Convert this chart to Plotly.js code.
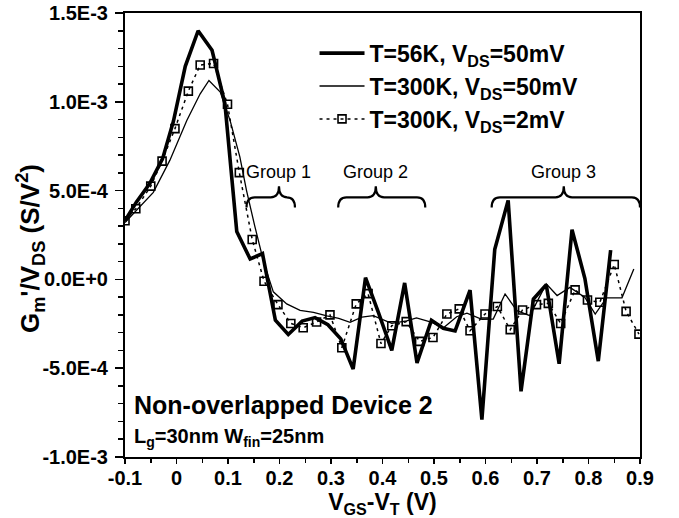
<!DOCTYPE html>
<html>
<head>
<meta charset="utf-8">
<script src="https://cdn.plot.ly/plotly-3.0.1.min.js"></script>
<style>html,body{margin:0;padding:0;background:#fff;}#chart{width:679px;height:518px;}</style>
</head>
<body>
<div id="chart"></div>
<script>
// Values of Gm'/VDS in units of 1E-4 S/V^2
var x56K = [-0.1, -0.078, -0.052, -0.027, -0.006, 0.017, 0.042, 0.069, 0.094, 0.117, 0.143, 0.167, 0.192, 0.217, 0.244, 0.269, 0.294, 0.319, 0.343, 0.367, 0.392, 0.418, 0.443, 0.467, 0.495, 0.518, 0.541, 0.570, 0.593, 0.618, 0.644, 0.669, 0.693, 0.718, 0.743, 0.768, 0.793, 0.819, 0.843];
var gm56K = [3.3, 4.35, 5.4, 6.8, 8.9, 12.0, 14.0, 12.9, 9.9, 2.7, 1.15, 1.45, -2.3, -3.1, -2.35, -2.15, -2.55, -3.35, -5.05, 0.1, -1.85, -4.0, -0.2, -4.7, -2.3, -2.75, -2.9, -0.6, -7.9, 1.7, 4.45, -6.3, -1.1, -0.3, -4.75, 2.8, 0.05, -4.6, 1.65];

var x300K = [-0.1, -0.077, -0.045, -0.013, 0.02, 0.046, 0.063, 0.085, 0.104, 0.123, 0.136, 0.152, 0.17, 0.188, 0.214, 0.24, 0.266, 0.292, 0.315, 0.337, 0.36, 0.382, 0.418, 0.447, 0.466, 0.496, 0.518, 0.544, 0.564, 0.593, 0.615, 0.638, 0.661, 0.686, 0.718, 0.739, 0.764, 0.793, 0.813, 0.835, 0.865, 0.888];
var gm300K = [3.2, 3.9, 4.9, 6.7, 8.95, 10.45, 11.2, 10.55, 8.95, 6.9, 5.0, 3.0, 0.9, -0.7, -1.38, -1.74, -1.86, -2.05, -2.2, -2.42, -2.12, -2.04, -2.48, -2.33, -2.17, -2.42, -2.74, -2.1, -1.9, -2.25, -2.23, -0.82, -1.76, -2.04, -0.25, -0.91, -0.45, -1.01, -1.95, -1.04, -1.04, 0.59];

var x2mV = [-0.1, -0.079, -0.050, -0.028, -0.003, 0.023, 0.046, 0.072, 0.099, 0.122, 0.147, 0.170, 0.197, 0.222, 0.246, 0.272, 0.298, 0.321, 0.349, 0.372, 0.397, 0.418, 0.446, 0.472, 0.498, 0.525, 0.549, 0.570, 0.599, 0.623, 0.648, 0.672, 0.699, 0.722, 0.746, 0.774, 0.798, 0.822, 0.850, 0.873, 0.898];
var gm2mV = [3.3, 3.98, 5.25, 6.66, 8.49, 10.6, 12.07, 12.16, 9.86, 6.01, 2.25, -0.1, -1.42, -2.48, -2.72, -2.4, -2.0, -3.85, -1.38, -0.8, -3.61, -2.61, -2.38, -3.49, -3.27, -1.95, -1.66, -2.89, -1.95, -1.53, -2.83, -1.72, -1.42, -1.35, -2.48, -0.59, -1.16, -1.29, 0.84, -1.80, -3.08];

var seriesNames = ["T=56K, V<sub>DS</sub>=50mV", "T=300K, V<sub>DS</sub>=50mV", "T=300K, V<sub>DS</sub>=2mV"];

var xTickVals = [-0.1, 0, 0.1, 0.2, 0.3, 0.4, 0.5, 0.6, 0.7, 0.8, 0.9];
var xTickText = ["-0.1", "0", "0.1", "0.2", "0.3", "0.4", "0.5", "0.6", "0.7", "0.8", "0.9"];
var yTickVals = [-10, -5, 0, 5, 10, 15];
var yTickText = ["-1.0E-3", "-5.0E-4", "0.0E+0", "5.0E-4", "1.0E-3", "1.5E-3"];

var groupLabels = ["Group 1", "Group 2", "Group 3"];
var groupCenters = [0.199, 0.387, 0.752];
var groupSpans = [[0.136, 0.230], [0.314, 0.483], [0.612, 0.900]];

var FONT = "Liberation Sans, Arial, sans-serif";

var traces = [
  {x: x56K, y: gm56K, name: seriesNames[0], mode: "lines", type: "scatter",
   line: {color: "#000", width: 3.6}},
  {x: x300K, y: gm300K, name: seriesNames[1], mode: "lines", type: "scatter",
   line: {color: "#000", width: 1.3}},
  {x: x2mV, y: gm2mV, name: seriesNames[2], mode: "lines+markers", type: "scatter",
   line: {color: "#000", width: 1.5, dash: "3px,4px"},
   marker: {symbol: "square-open", size: 8, color: "#000", line: {width: 1.6, color: "#000"}}}
];

function brace(x0, x1, xm) {
  var yEnd = 4.05, yBar = 4.62, yTip = 5.24, d = 0.016;
  return "M" + x0 + "," + yEnd +
    " Q" + x0 + "," + yBar + " " + (x0 + d) + "," + yBar +
    " L" + (xm - d) + "," + yBar +
    " Q" + xm + "," + yBar + " " + xm + "," + yTip +
    " Q" + xm + "," + yBar + " " + (xm + d) + "," + yBar +
    " L" + (x1 - d) + "," + yBar +
    " Q" + x1 + "," + yBar + " " + x1 + "," + yEnd;
}

var shapes = [];
var annotations = [];
for (var i = 0; i < groupLabels.length; i++) {
  shapes.push({type: "path", xref: "x", yref: "y",
    path: brace(groupSpans[i][0], groupSpans[i][1], groupCenters[i]),
    line: {color: "#000", width: 2.2}});
  annotations.push({x: groupCenters[i], y: 6.04, xref: "x", yref: "y",
    text: groupLabels[i], showarrow: false, xanchor: "center", yanchor: "middle",
    font: {family: FONT, size: 18, color: "#000"}});
}
annotations.push({x: 0.013, y: 0.117, xref: "paper", yref: "paper", xanchor: "left", yanchor: "middle",
  text: "Non-overlapped Device 2", showarrow: false,
  font: {family: FONT, size: 25, color: "#000", weight: "bold"}});
annotations.push({x: 0.013, y: 0.045, xref: "paper", yref: "paper", xanchor: "left", yanchor: "middle",
  text: "L<sub>g</sub>=30nm W<sub>fin</sub>=25nm", showarrow: false,
  font: {family: FONT, size: 20, color: "#000", weight: "bold"}});
// y-axis title (placed as a rotated annotation for exact position)
annotations.push({x: -0.183, y: 0.47, xref: "paper", yref: "paper", xanchor: "center", yanchor: "middle",
  textangle: -90, showarrow: false,
  text: "G<sub>m</sub>'/V<sub>DS</sub> (S/V<sup>2</sup>)",
  font: {family: FONT, size: 26, color: "#000", weight: "bold"}});

var layout = {
  width: 679, height: 518,
  margin: {l: 125, r: 39, t: 13, b: 61},
  paper_bgcolor: "#fff", plot_bgcolor: "#fff",
  font: {family: FONT, color: "#000"},
  showlegend: true,
  legend: {x: 0.368, y: 0.958, xanchor: "left", yanchor: "top",
    bgcolor: "rgba(0,0,0,0)", borderwidth: 0, itemwidth: 45,
    font: {family: FONT, size: 23, color: "#000", weight: "bold"}},
  xaxis: {range: [-0.1, 0.9], tickmode: "array", tickvals: xTickVals, ticktext: xTickText,
    showline: true, linecolor: "#000", linewidth: 2, mirror: true, zeroline: false, showgrid: false,
    ticks: "outside", ticklen: 5, tickwidth: 1.5, tickcolor: "#000", ticklabelstandoff: -3,
    tickfont: {family: FONT, size: 20, color: "#000", weight: "bold"},
    minor: {tickmode: "linear", tick0: -0.05, dtick: 0.1, ticks: "outside", ticklen: 4, tickwidth: 1.5, tickcolor: "#000"},
    title: {text: "V<sub>GS</sub>-V<sub>T</sub> (V)", standoff: 6,
      font: {family: FONT, size: 23, color: "#000", weight: "bold"}}},
  yaxis: {range: [-10, 15], tickmode: "array", tickvals: yTickVals, ticktext: yTickText,
    showline: true, linecolor: "#000", linewidth: 2, mirror: true, zeroline: false, showgrid: false,
    ticks: "outside", ticklen: 8, tickwidth: 1.5, tickcolor: "#000", ticklabelstandoff: 3,
    tickfont: {family: FONT, size: 20, color: "#000", weight: "bold"},
    minor: {tickmode: "linear", tick0: 0, dtick: 1, ticks: "outside", ticklen: 5, tickwidth: 1.5, tickcolor: "#000"}},
  shapes: shapes,
  annotations: annotations
};

Plotly.newPlot("chart", traces, layout, {displayModeBar: false, staticPlot: true});
</script>
</body>
</html>
